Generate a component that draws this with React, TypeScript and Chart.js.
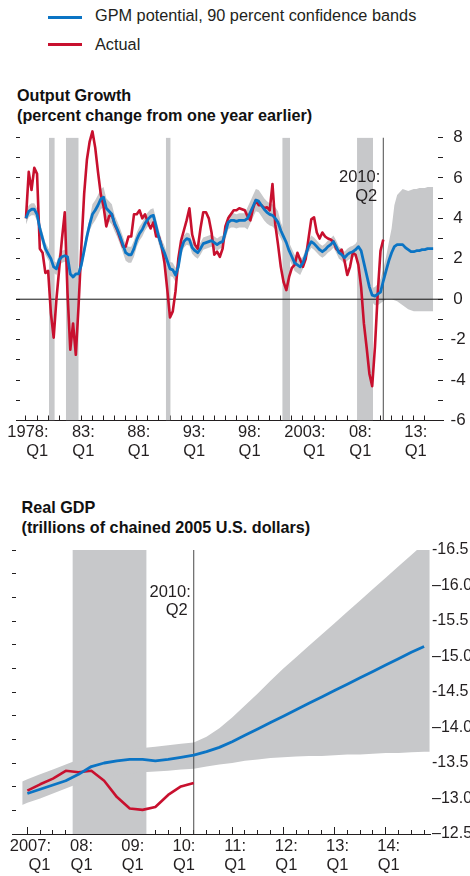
import React, { useEffect, useRef } from 'react';
import { Chart, registerables } from 'chart.js';

Chart.register(...registerables);

const FONT = "'Liberation Sans', Arial, Helvetica, sans-serif";
const BLUE = '#0b74c4';
const RED = '#c8102e';
const GRAY = '#c7c8ca';
const INK = '#231f20';

Chart.defaults.font.family = FONT;
Chart.defaults.color = INK;

// ---------------- Output growth (quarterly, from 1978:Q1) ----------------
const growthStartYear = 1978;

const growthActual = [
  4.0, 6.3, 5.4, 6.5, 6.2, 2.5, 2.3, 1.3,
  1.4, -0.7, -1.9, 0.0, 1.5, 3.0, 4.3, 0.3,
  -2.5, -1.2, -2.75, -0.3, 2.6, 5.2, 6.9, 7.8,
  8.3, 7.5, 6.3, 5.2, 4.6, 3.6, 4.1, 4.2,
  3.7, 3.4, 3.0, 2.6, 2.6, 3.1, 3.1, 4.2,
  4.2, 4.4, 4.0, 4.2, 3.8, 3.5, 3.8, 3.1,
  3.1, 2.6, 1.8, 0.5, -0.9, -0.6, 0.4, 2.0,
  2.9, 3.4, 3.9, 4.5, 3.2, 2.7, 2.5, 3.5,
  4.3, 4.3, 4.0, 3.3, 2.2, 2.35, 2.1, 2.5,
  3.6, 4.0, 4.2, 4.4, 4.4, 4.5, 4.45, 4.4,
  4.1, 3.9, 4.5, 4.9, 4.65, 4.65, 4.5, 4.55,
  4.4, 5.7, 3.7, 2.7, 1.6, 0.85, 0.45, 1.1,
  1.55, 1.7, 2.3, 1.95, 1.6, 2.0, 3.0, 3.95,
  4.05, 3.3, 3.0, 3.3, 3.1, 3.0, 2.95, 2.85,
  2.5, 2.35, 2.45, 1.9, 1.2, 1.6, 2.3, 2.2,
  1.7, 0.6, -1.2, -2.4, -3.7, -4.3, -2.35, 0.3,
  2.4, 2.95,
];

const growthPotential = [
  4.0, 4.35, 4.45, 4.45, 4.2, 3.5, 3.0, 2.5,
  2.25, 2.0, 1.6, 1.5, 1.95, 2.1, 2.15, 2.1,
  1.25, 1.1, 1.25, 1.25, 1.7, 2.4, 3.1, 3.7,
  4.2, 4.4, 4.65, 4.95, 5.05, 4.5, 4.35, 4.2,
  3.75, 3.45, 3.1, 2.7, 2.3, 2.2, 2.2, 2.5,
  2.95, 3.25, 3.45, 3.75, 3.95, 4.1, 4.15, 3.6,
  3.05, 2.6, 2.3, 1.9, 1.5, 1.45, 1.2, 1.6,
  2.45, 2.85, 3.0, 2.95, 2.55, 2.4, 2.3, 2.5,
  2.75, 2.8, 2.85, 2.9, 2.8, 2.7, 2.8, 2.85,
  3.3, 3.8, 3.9, 3.9, 3.85, 3.9, 3.9, 3.9,
  4.0, 4.3, 4.6, 4.9, 4.85, 4.65, 4.45, 4.3,
  4.2, 4.15, 4.0, 3.8, 3.4, 3.1, 2.8, 2.4,
  2.1, 1.8, 1.7, 1.6, 1.8, 2.2, 2.6, 2.85,
  2.75, 2.6, 2.45, 2.35, 2.45, 2.6, 2.7, 2.85,
  2.6, 2.3, 2.2, 2.05, 2.2, 2.3, 2.35, 2.45,
  2.6, 2.4, 1.8, 1.2, 0.6, 0.2, 0.15, 0.25,
  0.35, 0.9, 1.4, 1.9, 2.3, 2.6, 2.7, 2.7,
  2.7, 2.55, 2.45, 2.35, 2.35, 2.4, 2.4, 2.45,
  2.45, 2.5, 2.5, 2.5,
];

const growthBandUpper = [
  4.3, 4.65, 4.75, 4.75, 4.5, 3.8, 3.3, 2.8,
  2.55, 2.3, 1.9, 1.8, 2.25, 2.4, 2.45, 2.4,
  1.55, 1.4, 1.55, 1.55, 2.0, 2.7, 3.4, 4.0,
  4.7, 4.9, 5.15, 5.45, 5.55, 5.0, 4.85, 4.7,
  4.15, 3.85, 3.5, 3.1, 2.7, 2.6, 2.6, 2.9,
  3.3, 3.6, 3.8, 4.1, 4.3, 4.45, 4.5, 3.95,
  3.4, 2.95, 2.65, 2.25, 1.85, 1.8, 1.55, 1.95,
  2.75, 3.15, 3.3, 3.25, 2.85, 2.7, 2.6, 2.8,
  3.05, 3.1, 3.15, 3.2, 3.1, 3.0, 3.1, 3.15,
  3.65, 4.15, 4.25, 4.25, 4.2, 4.25, 4.25, 4.25,
  4.55, 4.85, 5.15, 5.45, 5.4, 5.2, 5.0, 4.85,
  4.75, 4.7, 4.55, 4.35, 3.8, 3.5, 3.2, 2.8,
  2.5, 2.2, 2.1, 2.0, 2.1, 2.5, 2.9, 3.15,
  3.05, 2.9, 2.75, 2.65, 2.75, 2.9, 3.0, 3.15,
  2.9, 2.6, 2.5, 2.35, 2.5, 2.6, 2.65, 2.75,
  2.95, 2.75, 2.15, 1.55, 0.95, 0.55, 0.6, 0.75,
  1.0, 1.5, 2.1, 2.8, 3.5, 4.65, 5.15, 5.3,
  5.45, 5.4, 5.35, 5.4, 5.45, 5.45, 5.5, 5.5,
  5.5, 5.55, 5.55, 5.55,
];

const growthBandLower = [
  3.7, 4.05, 4.15, 4.15, 3.9, 3.2, 2.7, 2.2,
  1.95, 1.7, 1.3, 1.2, 1.65, 1.8, 1.85, 1.8,
  0.95, 0.8, 0.95, 0.95, 1.4, 2.1, 2.8, 3.4,
  3.7, 3.9, 4.15, 4.45, 4.55, 4.0, 3.85, 3.7,
  3.35, 3.05, 2.7, 2.3, 1.9, 1.8, 1.8, 2.1,
  2.6, 2.9, 3.1, 3.4, 3.6, 3.75, 3.8, 3.25,
  2.7, 2.25, 1.95, 1.55, 1.15, 1.1, 0.85, 1.25,
  2.15, 2.55, 2.7, 2.65, 2.25, 2.1, 2.0, 2.2,
  2.45, 2.5, 2.55, 2.6, 2.5, 2.4, 2.5, 2.55,
  2.95, 3.45, 3.55, 3.55, 3.5, 3.55, 3.55, 3.55,
  3.45, 3.75, 4.05, 4.35, 4.3, 4.1, 3.9, 3.75,
  3.65, 3.6, 3.45, 3.25, 3.0, 2.7, 2.4, 2.0,
  1.7, 1.4, 1.3, 1.2, 1.5, 1.9, 2.3, 2.55,
  2.45, 2.3, 2.15, 2.05, 2.15, 2.3, 2.4, 2.55,
  2.3, 2.0, 1.9, 1.75, 1.9, 2.0, 2.05, 2.15,
  2.25, 2.05, 1.45, 0.85, 0.25, -0.15, -0.3, -0.3,
  -0.2, -0.1, 0.0, 0.0, 0.0, -0.05, -0.1, -0.2,
  -0.3, -0.4, -0.5, -0.55, -0.6, -0.6, -0.6, -0.6,
  -0.6, -0.6, -0.6, -0.6,
];

const growthTickYears = [1978, 1983, 1988, 1993, 1998, 2003, 2008, 2013];
const growthTickLabels = [
  ['1978:', '    Q1'], ['83:', 'Q1'], ['88:', 'Q1'], ['93:', 'Q1'],
  ['98:', 'Q1'], ['2003:', '    Q1'], ['08:', 'Q1'], ['13:', 'Q1'],
];
const growthMinorYears = Array.from({ length: 37 }, (_, i) => 1978 + i);
const growthXMin = 1977.1;
const growthXMax = 2015.64;
const growthYMin = -6;
const growthYMax = 8;

const recessionStart = [1980.08, 1981.6, 1990.62, 2001.13, 2007.88];
const recessionEnd = [1980.6, 1982.76, 1991.06, 2001.83, 2009.33];

const forecastStart = 2010.25;
const forecastLabel = ['2010:', 'Q2'];

// ---------------- Real GDP (quarterly, from 2007:Q1) ----------------
const gdpStartYear = 2007;
const gdpActual = [
  13.11, 13.2, 13.28, 13.39, 13.37, 13.39, 13.25, 13.02,
  12.86, 12.84, 12.88, 13.05, 13.17, 13.22,
];
const gdpPotential = [
  13.07, 13.13, 13.19, 13.25, 13.34, 13.45, 13.5, 13.53,
  13.55, 13.55, 13.53, 13.55, 13.58, 13.61, 13.66, 13.72,
  13.8, 13.89, 13.98, 14.07, 14.16, 14.25, 14.34, 14.43,
  14.52, 14.61, 14.7, 14.79, 14.88, 14.97, 15.06, 15.14,
];
const gdpBandDates = [2006.9, ...Array.from({ length: 32 }, (_, i) => 2007 + i / 4), 2014.86];
const gdpBandUpper = [
  13.24, 13.27, 13.34, 13.41, 13.48, 13.55, 13.6, 13.64, 13.67,
  13.69, 13.71, 13.73, 13.75, 13.77, 13.79, 13.87, 13.99,
  14.14, 14.31, 14.48, 14.66, 14.83, 14.99, 15.15, 15.31,
  15.47, 15.63, 15.79, 15.95, 16.11, 16.27, 16.43, 16.59, 16.66,
];
const gdpBandLower = [
  12.91, 12.94, 13.0, 13.07, 13.14, 13.21, 13.26, 13.3, 13.33,
  13.35, 13.37, 13.38, 13.39, 13.41, 13.42, 13.45, 13.48,
  13.5, 13.53, 13.55, 13.57, 13.58, 13.59, 13.6, 13.6,
  13.61, 13.62, 13.62, 13.63, 13.64, 13.64, 13.65, 13.66, 13.66,
];
const gdpTickYears = [2007, 2008, 2009, 2010, 2011, 2012, 2013, 2014];
const gdpTickLabels = [
  ['2007:', '    Q1'], ['08:', 'Q1'], ['09:', 'Q1'], ['10:', 'Q1'],
  ['11:', 'Q1'], ['12:', 'Q1'], ['13:', 'Q1'], ['14:', 'Q1'],
];
const gdpQuarterTicks = Array.from({ length: 32 }, (_, i) => 2007 + i / 4);
const gdpYTickValues = [12.5, 13.0, 13.5, 14.0, 14.5, 15.0, 15.5, 16.0, 16.5];
const gdpYTickText = ['–12.5', '–13.0', '-13.5', '–14.0', '-14.5', '–15.0', '-15.5', '–16.0', '-16.5'];
const gdpXMin = 2006.7;
const gdpXMax = 2014.865;
const gdpYMin = 12.5;
const gdpYMax = 16.5;

// ---------------- helpers ----------------
const quarterly = (values: number[], start: number) => values.map((y, i) => ({ x: start + i / 4, y }));
const paired = (xs: number[], ys: number[]) => xs.map((x, i) => ({ x, y: ys[i] }));

const fixBox = (w?: number, h?: number) => (s: any) => {
  if (w !== undefined) s.width = w;
  if (h !== undefined) s.height = h;
  s.paddingLeft = 0;
  s.paddingRight = 0;
  s.paddingTop = 0;
  s.paddingBottom = 0;
};

const lineDs = (data: any[], color: string, width: number, order: number, extra: any = {}) => ({
  type: 'line',
  data,
  borderColor: color,
  borderWidth: width,
  pointRadius: 0,
  pointHoverRadius: 0,
  tension: 0,
  fill: false,
  order,
  borderJoinStyle: 'round',
  ...extra,
});

const recessionSets = (yTop: number, xMin: number, xMax: number) =>
  recessionStart
    .map((s, i) => ({ s, e: recessionEnd[i] }))
    .filter((r) => r.e > xMin && r.s < xMax)
    .map((r) =>
      lineDs([{ x: r.s, y: yTop }, { x: r.e, y: yTop }], 'rgba(0,0,0,0)', 0, 6, {
        fill: 'start',
        backgroundColor: GRAY,
      })
    );

const forecastLabelPlugin = (baseline: number, spacing: number) => ({
  id: 'forecastLabel',
  afterDatasetsDraw(chart: any) {
    const { ctx, chartArea, scales } = chart;
    const x = scales.x.getPixelForValue(forecastStart);
    ctx.save();
    ctx.font = `16.5px ${FONT}`;
    ctx.fillStyle = INK;
    ctx.textAlign = 'right';
    ctx.textBaseline = 'alphabetic';
    forecastLabel.forEach((line, i) => {
      ctx.fillText(line, x - (i === 0 ? 3 : 6), chartArea.top + baseline + i * spacing);
    });
    ctx.restore();
  },
});

const baseOptions = {
  responsive: false,
  animation: false,
  devicePixelRatio: 1,
  events: [],
  plugins: { legend: { display: false }, tooltip: { enabled: false }, title: { display: false } },
};

function growthConfig(): any {
  const datasets: any[] = [
    lineDs(quarterly(growthPotential, growthStartYear), BLUE, 2.8, 0, { clip: false }),
    lineDs(quarterly(growthActual, growthStartYear), RED, 2.6, 1, { clip: false }),
    lineDs([{ x: growthXMin, y: 0 }, { x: growthXMax, y: 0 }], '#111', 1, 2),
    lineDs([{ x: forecastStart, y: growthYMin }, { x: forecastStart, y: growthYMax }], '#4a4a4a', 1, 2),
    lineDs(quarterly(growthBandUpper, growthStartYear), 'rgba(0,0,0,0)', 0, 4, { fill: '+1', backgroundColor: GRAY }),
    lineDs(quarterly(growthBandLower, growthStartYear), 'rgba(0,0,0,0)', 0, 4),
    ...recessionSets(growthYMax, growthXMin, growthXMax),
  ];
  return {
    type: 'line',
    data: { datasets },
    plugins: [forecastLabelPlugin(44.2, 19.5)],
    options: {
      ...baseOptions,
      layout: { autoPadding: false, padding: { top: 11.5, left: 0, right: 0, bottom: 0 } },
      scales: {
        x: {
          type: 'linear',
          position: 'bottom',
          min: growthXMin,
          max: growthXMax,
          afterBuildTicks: (s: any) => {
            s.ticks = growthMinorYears.map((v) => ({ value: v }));
          },
          afterFit: fixBox(undefined, 45.5),
          grid: { drawOnChartArea: false, drawTicks: true, tickLength: -5, tickColor: INK, tickWidth: 1 },
          border: { display: true, color: INK, width: 1 },
          ticks: {
            autoSkip: false,
            maxRotation: 0,
            minRotation: 0,
            padding: 7,
            labelOffset: 2,
            color: INK,
            font: { size: 16.5, lineHeight: 1.15 },
            callback: (v: number) => {
              const i = growthTickYears.indexOf(v);
              return i >= 0 ? growthTickLabels[i] : '';
            },
          },
        },
        y: {
          type: 'linear',
          position: 'right',
          min: growthYMin,
          max: growthYMax,
          afterFit: fixBox(27),
          grid: { drawOnChartArea: false, drawTicks: true, tickLength: -5, tickColor: INK },
          border: { display: false },
          ticks: {
            stepSize: 1,
            autoSkip: false,
            padding: 12.5,
            crossAlign: 'center',
            color: INK,
            font: { size: 17 },
            callback: (v: number) => (Math.round(v) % 2 === 0 ? String(Math.round(v)) : ''),
          },
        },
        yl: {
          type: 'linear',
          position: 'left',
          min: growthYMin,
          max: growthYMax,
          afterFit: fixBox(16),
          grid: { drawOnChartArea: false, drawTicks: true, tickLength: -4, tickColor: INK },
          border: { display: false },
          ticks: { stepSize: 1, display: false, autoSkip: false },
        },
      },
    },
  };
}

function gdpConfig(): any {
  const datasets: any[] = [
    lineDs(quarterly(gdpPotential, gdpStartYear), BLUE, 2.8, 0),
    lineDs(quarterly(gdpActual, gdpStartYear), RED, 2.6, 1),
    lineDs([{ x: forecastStart, y: gdpYMin }, { x: forecastStart, y: gdpYMax }], '#4a4a4a', 1, 2),
    lineDs(paired(gdpBandDates, gdpBandUpper), 'rgba(0,0,0,0)', 0, 4, { fill: '+1', backgroundColor: GRAY }),
    lineDs(paired(gdpBandDates, gdpBandLower), 'rgba(0,0,0,0)', 0, 4),
    ...recessionSets(gdpYMax, gdpXMin, gdpXMax),
  ];
  return {
    type: 'line',
    data: { datasets },
    plugins: [forecastLabelPlugin(46.7, 18)],
    options: {
      ...baseOptions,
      layout: { autoPadding: false, padding: { top: 10, left: 0, right: 0, bottom: 0 } },
      scales: {
        x: {
          type: 'linear',
          position: 'bottom',
          min: gdpXMin,
          max: gdpXMax,
          afterBuildTicks: (s: any) => {
            s.ticks = gdpTickYears.map((v) => ({ value: v }));
          },
          afterFit: fixBox(undefined, 42),
          grid: { drawOnChartArea: false, drawTicks: true, tickLength: -7, tickColor: INK },
          border: { display: true, color: INK, width: 1 },
          ticks: {
            autoSkip: false,
            maxRotation: 0,
            minRotation: 0,
            padding: 9.5,
            labelOffset: 3,
            color: INK,
            font: { size: 16.5, lineHeight: 1.15 },
            callback: (v: number) => {
              const i = gdpTickYears.indexOf(v);
              return i >= 0 ? gdpTickLabels[i] : '';
            },
          },
        },
        xq: {
          type: 'linear',
          axis: 'x',
          position: { y: gdpYMin },
          min: gdpXMin,
          max: gdpXMax,
          afterBuildTicks: (s: any) => {
            s.ticks = gdpQuarterTicks.map((v) => ({ value: v }));
          },
          afterFit: fixBox(undefined, 0),
          grid: { drawOnChartArea: false, drawTicks: true, tickLength: -4, tickColor: INK },
          border: { display: false },
          ticks: { display: false, autoSkip: false },
        },
        y: {
          type: 'linear',
          position: 'right',
          min: gdpYMin,
          max: gdpYMax,
          afterFit: fixBox(40),
          grid: { drawOnChartArea: false, drawTicks: false },
          border: { display: false },
          ticks: {
            stepSize: 0.5,
            autoSkip: false,
            padding: 2,
            color: INK,
            font: { size: 16 },
            callback: (v: number) => {
              const i = gdpYTickValues.findIndex((t) => Math.abs(t - v) < 1e-6);
              return i >= 0 ? gdpYTickText[i] : '';
            },
          },
        },
        yl: {
          type: 'linear',
          position: 'left',
          min: gdpYMin,
          max: gdpYMax,
          afterBuildTicks: (s: any) => {
            s.ticks = Array.from({ length: 13 }, (_, i) => ({ value: gdpYMin + (i * (gdpYMax - gdpYMin)) / 12 }));
          },
          afterFit: fixBox(12),
          grid: { drawOnChartArea: false, drawTicks: true, tickLength: -4, tickColor: INK },
          border: { display: false },
          ticks: { display: false, autoSkip: false },
        },
      },
    },
  };
}

function ChartCanvas({ make, top, height }: { make: () => any; top: number; height: number }) {
  const ref = useRef<HTMLCanvasElement | null>(null);
  useEffect(() => {
    if (!ref.current) return;
    const chart = new Chart(ref.current, make());
    return () => chart.destroy();
  }, []);
  return (
    <canvas
      ref={ref}
      width={470}
      height={height}
      style={{ position: 'absolute', left: 0, top, width: 470, height }}
    />
  );
}

const textBase: React.CSSProperties = {
  position: 'absolute',
  whiteSpace: 'nowrap',
  color: '#111',
  fontFamily: FONT,
  margin: 0,
};

export default function App() {
  return (
    <div
      style={{
        position: 'fixed',
        left: 0,
        top: 0,
        width: 470,
        height: 876,
        background: '#fff',
        overflow: 'hidden',
        fontFamily: FONT,
      }}
    >
      {/* Legend */}
      <div style={{ position: 'absolute', left: 48, top: 16, width: 34, height: 3, background: BLUE }} />
      <div style={{ ...textBase, left: 95, top: 7.2, fontSize: 16.3, lineHeight: '16.3px', color: INK }}>
        GPM potential, 90 percent confidence bands
      </div>
      <div style={{ position: 'absolute', left: 48, top: 43, width: 34, height: 3, background: RED }} />
      <div style={{ ...textBase, left: 95, top: 35.5, fontSize: 16.3, lineHeight: '16.3px', color: INK }}>
        Actual
      </div>

      {/* Output growth titles */}
      <div style={{ ...textBase, left: 17, top: 87.2, fontSize: 16.2, lineHeight: '16.2px', fontWeight: 700 }}>
        Output Growth
      </div>
      <div style={{ ...textBase, left: 17, top: 106.5, fontSize: 16.2, lineHeight: '16.2px', fontWeight: 700 }}>
        (percent change from one year earlier)
      </div>

      <ChartCanvas make={growthConfig} top={126} height={340} />

      {/* Real GDP titles */}
      <div style={{ ...textBase, left: 21.5, top: 499, fontSize: 16.2, lineHeight: '16.2px', fontWeight: 700 }}>
        Real GDP
      </div>
      <div style={{ ...textBase, left: 21.5, top: 519, fontSize: 16.2, lineHeight: '16.2px', fontWeight: 700 }}>
        (trillions of chained 2005 U.S. dollars)
      </div>

      <ChartCanvas make={gdpConfig} top={540} height={336} />
    </div>
  );
}
